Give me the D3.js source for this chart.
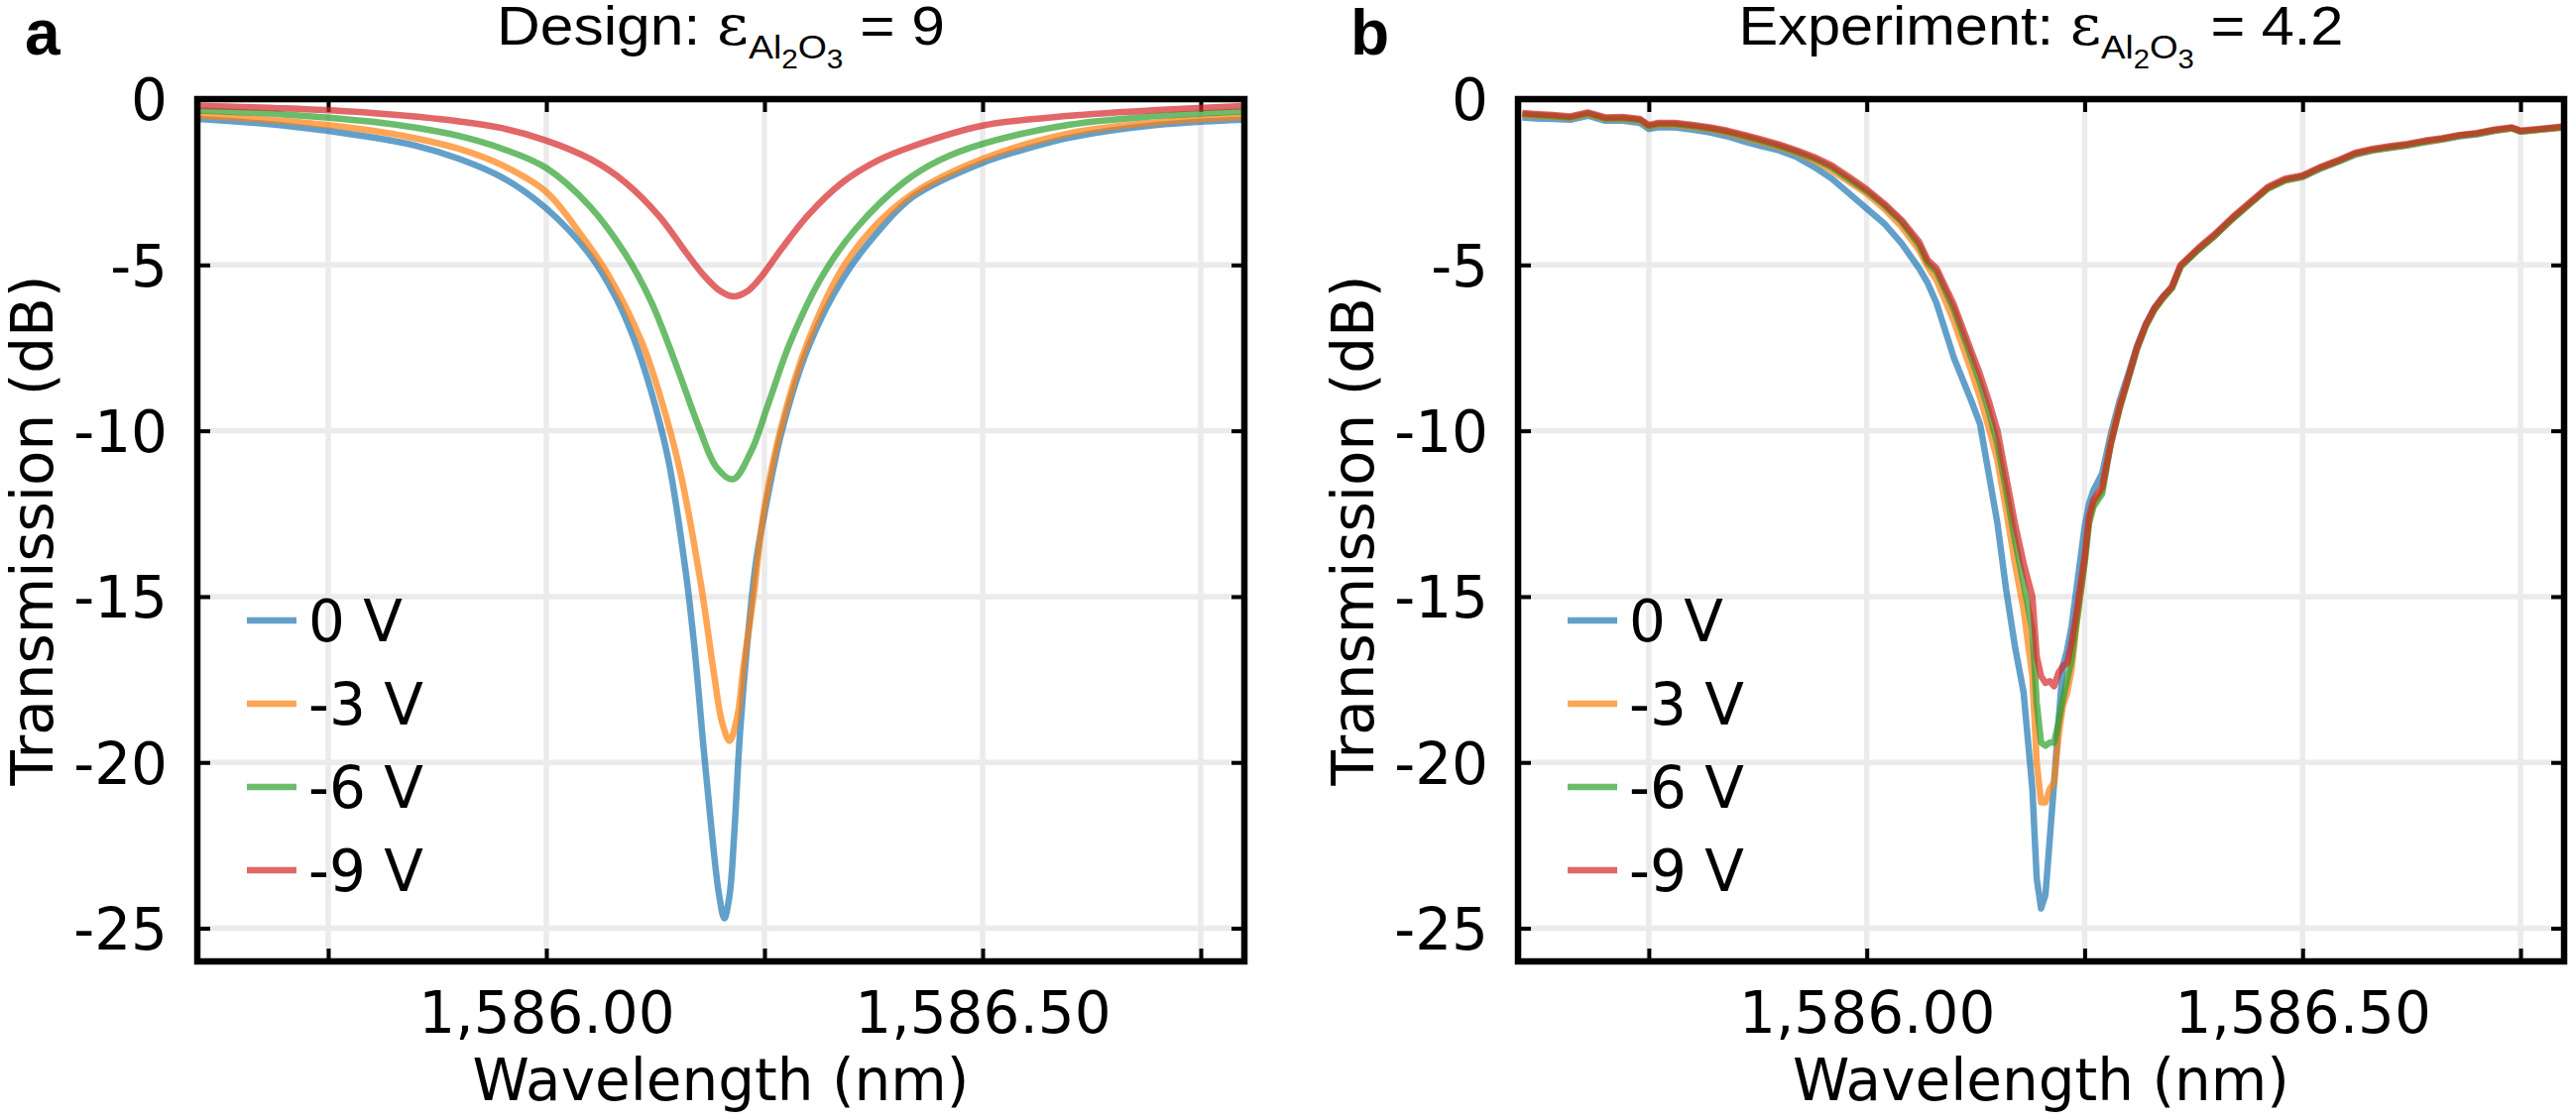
<!DOCTYPE html>
<html><head><meta charset="utf-8">
<script src="https://cdn.jsdelivr.net/npm/d3@7"></script>
<style>html,body{margin:0;padding:0;background:#fff;} svg{display:block;}</style>
</head><body>
<svg id="chart" width="2598" height="1130"></svg>
<script>
// ---------- shared categories / ticks ----------
const seriesNames = ["0 V", "-3 V", "-6 V", "-9 V"];
const seriesColors = ["#1f77b4", "#ff7f0e", "#2ca02c", "#d62728"];
const yTickValues = [0, -5, -10, -15, -20, -25];
const yTickLabels = ["0", "-5", "-10", "-15", "-20", "-25"];
const xTickValues = [1585.75, 1586.00, 1586.25, 1586.50, 1586.75];
const xTickLabels = ["", "1,586.00", "", "1,586.50", ""];
const xDomain = [1585.6, 1586.8];
const yDomain = [-26, 0];

// ---------- panel a: design (simulated) ----------
const designWl0 = [1585.60,1585.70,1585.80,1585.85,1585.90,1585.95,1586.00,1586.05,1586.08,1586.10,1586.12,1586.14,1586.16,1586.17,1586.18,1586.19,1586.198,1586.204,1586.21,1586.215,1586.222,1586.23,1586.24,1586.25,1586.27,1586.30,1586.34,1586.38,1586.42,1586.50,1586.55,1586.60,1586.70,1586.80];
const designT0  = [-0.60,-0.80,-1.15,-1.40,-1.80,-2.37,-3.30,-4.70,-6.00,-7.20,-8.80,-10.9,-14.3,-16.6,-19.5,-22.2,-24.0,-24.7,-24.0,-22.3,-19.1,-16.5,-14.0,-12.5,-10.0,-7.5,-5.4,-4.0,-2.95,-1.92,-1.50,-1.16,-0.78,-0.62];

const designWl3 = [1585.60,1585.70,1585.80,1585.85,1585.90,1585.95,1586.00,1586.04,1586.071,1586.109,1586.131,1586.154,1586.177,1586.192,1586.2015,1586.21,1586.219,1586.226,1586.2375,1586.25,1586.272,1586.30,1586.336,1586.374,1586.42,1586.50,1586.60,1586.70,1586.80];
const designT3  = [-0.50,-0.66,-0.95,-1.18,-1.50,-2.00,-2.80,-4.10,-5.30,-7.30,-9.00,-11.3,-14.6,-17.3,-18.8,-19.35,-18.6,-17.1,-15.0,-12.3,-9.6,-7.3,-5.25,-3.9,-2.85,-1.80,-1.03,-0.70,-0.54];

const designWl6 = [1585.60,1585.70,1585.80,1585.85,1585.90,1585.95,1586.00,1586.05,1586.09,1586.12,1586.15,1586.175,1586.195,1586.214,1586.235,1586.253,1586.28,1586.317,1586.355,1586.41,1586.45,1586.50,1586.60,1586.70,1586.80];
const designT6  = [-0.34,-0.46,-0.68,-0.86,-1.11,-1.50,-2.08,-3.24,-4.65,-6.10,-8.10,-9.90,-11.1,-11.46,-10.6,-9.3,-7.3,-5.3,-3.9,-2.5,-1.85,-1.35,-0.77,-0.51,-0.37];

const designWl9 = [1585.60,1585.70,1585.80,1585.90,1585.95,1586.00,1586.05,1586.09,1586.13,1586.16,1586.18,1586.20,1586.215,1586.23,1586.245,1586.27,1586.30,1586.34,1586.38,1586.42,1586.50,1586.60,1586.70,1586.80];
const designT9  = [-0.20,-0.28,-0.42,-0.67,-0.88,-1.25,-1.80,-2.50,-3.55,-4.62,-5.30,-5.80,-5.95,-5.80,-5.40,-4.50,-3.50,-2.50,-1.85,-1.42,-0.80,-0.50,-0.33,-0.21];

// ---------- panel b: experiment (measured) ----------
const expWl = [1585.605,1585.62,1585.64,1585.66,1585.68,1585.70,1585.72,1585.74,1585.75,1585.76,1585.78,1585.80,1585.82,1585.84,1585.86,1585.88,1585.90,1585.92,1585.94,1585.96,1585.98,
  1586.00,1586.02,1586.04,1586.06,1586.07,1586.08,1586.10,1586.12,1586.13,1586.14,1586.15,1586.16,1586.17,1586.18,1586.19,1586.195,1586.20,1586.205,1586.21,1586.215,1586.22,1586.225,1586.23,1586.235,1586.24,1586.25,1586.255,1586.26,1586.27,
  1586.28,1586.29,1586.30,1586.31,1586.32,1586.33,1586.34,1586.35,1586.36,1586.38,1586.40,1586.42,1586.44,1586.46,1586.48,1586.50,1586.52,1586.54,1586.56,1586.58,1586.60,1586.62,1586.64,1586.66,1586.68,1586.70,1586.72,1586.74,1586.75,1586.77,1586.80];
const expT0 = [-0.55,-0.58,-0.60,-0.62,-0.50,-0.65,-0.65,-0.72,-0.90,-0.85,-0.85,-0.92,-1.00,-1.12,-1.28,-1.42,-1.55,-1.75,-2.05,-2.40,-2.85,
  -3.30,-3.75,-4.35,-5.10,-5.55,-6.15,-7.80,-9.10,-9.80,-11.3,-12.8,-14.8,-16.5,-17.9,-20.8,-23.5,-24.4,-24.0,-22.3,-20.6,-18.8,-17.1,-16.6,-15.9,-14.9,-12.9,-12.2,-11.8,-11.3,
  -10.1,-9.1,-8.3,-7.45,-6.8,-6.3,-5.95,-5.7,-5.05,-4.55,-4.1,-3.6,-3.15,-2.7,-2.45,-2.35,-2.1,-1.9,-1.68,-1.55,-1.47,-1.40,-1.30,-1.22,-1.12,-1.06,-0.96,-0.88,-0.98,-0.93,-0.85];
const expT3 = [-0.48,-0.50,-0.53,-0.57,-0.45,-0.60,-0.59,-0.65,-0.83,-0.77,-0.78,-0.84,-0.91,-1.02,-1.16,-1.30,-1.45,-1.63,-1.86,-2.15,-2.50,
  -2.85,-3.30,-3.85,-4.55,-5.05,-5.45,-6.70,-8.20,-9.00,-9.90,-10.9,-12.4,-14.0,-15.4,-17.4,-20.0,-21.2,-21.2,-20.8,-20.6,-19.2,-18.3,-17.9,-17.2,-16.0,-13.9,-12.7,-12.2,-11.8,
  -10.3,-9.25,-8.4,-7.5,-6.85,-6.35,-6.0,-5.7,-5.05,-4.55,-4.1,-3.6,-3.15,-2.7,-2.45,-2.34,-2.09,-1.89,-1.66,-1.54,-1.46,-1.39,-1.29,-1.21,-1.11,-1.05,-0.95,-0.88,-0.98,-0.93,-0.85];
const expT6 = [-0.45,-0.48,-0.51,-0.55,-0.43,-0.58,-0.57,-0.63,-0.81,-0.75,-0.75,-0.81,-0.88,-0.98,-1.12,-1.26,-1.41,-1.59,-1.80,-2.06,-2.42,
  -2.78,-3.20,-3.70,-4.40,-4.95,-5.20,-6.35,-7.80,-8.55,-9.40,-10.4,-11.8,-13.3,-14.6,-16.0,-18.2,-19.4,-19.5,-19.4,-19.4,-18.8,-18.1,-17.5,-16.9,-15.9,-14.0,-12.8,-12.3,-11.9,
  -10.4,-9.35,-8.45,-7.55,-6.85,-6.35,-6.0,-5.7,-5.05,-4.55,-4.1,-3.6,-3.14,-2.69,-2.44,-2.33,-2.08,-1.88,-1.65,-1.53,-1.45,-1.38,-1.28,-1.20,-1.10,-1.04,-0.94,-0.87,-0.97,-0.92,-0.84];
const expT9 = [-0.42,-0.45,-0.48,-0.52,-0.40,-0.55,-0.54,-0.60,-0.78,-0.72,-0.72,-0.78,-0.85,-0.95,-1.08,-1.22,-1.37,-1.55,-1.75,-2.00,-2.35,
  -2.72,-3.15,-3.65,-4.30,-4.85,-5.10,-6.20,-7.60,-8.30,-9.10,-10.0,-11.4,-12.8,-14.0,-15.0,-16.8,-17.4,-17.6,-17.55,-17.7,-17.3,-17.1,-17.0,-16.4,-15.6,-13.8,-12.6,-12.1,-11.7,
  -10.4,-9.3,-8.4,-7.5,-6.8,-6.3,-5.95,-5.65,-5.0,-4.5,-4.05,-3.55,-3.1,-2.65,-2.40,-2.30,-2.05,-1.85,-1.62,-1.50,-1.42,-1.35,-1.25,-1.18,-1.08,-1.02,-0.92,-0.85,-0.95,-0.90,-0.82];

// ---------- drawing ----------
const svg = d3.select("#chart");
const TICK_FONT = "'DejaVu Sans', sans-serif";
const TITLE_FONT = "'Liberation Sans', Arial, sans-serif";
const plotTop = 100, plotBottom = 970;

function zip(wl, t) { return wl.map((w, i) => ({x: w, y: t[i]})); }

function drawPanel(opts) {
  const {id, left, right, series, curve, title, value, titleWidth, letter, letterX} = opts;
  const x = d3.scaleLinear().domain(xDomain).range([left, right]);
  const y = d3.scaleLinear().domain(yDomain).range([plotBottom, plotTop]);
  const g = svg.append("g");

  g.append("clipPath").attr("id", "clip" + id).append("rect")
    .attr("x", left).attr("y", plotTop).attr("width", right - left).attr("height", plotBottom - plotTop);

  // grid
  const grid = g.append("g").attr("stroke", "#ebebeb").attr("stroke-width", 5.5);
  grid.selectAll("line.vx").data(xTickValues).join("line").attr("class", "vx")
    .attr("x1", d => x(d)).attr("x2", d => x(d)).attr("y1", plotTop).attr("y2", plotBottom);
  grid.selectAll("line.hy").data(yTickValues.filter(v => v !== 0)).join("line").attr("class", "hy")
    .attr("y1", d => y(d)).attr("y2", d => y(d)).attr("x1", left).attr("x2", right);

  // axes via d3 axis (inward ticks, all four sides)
  const tickLen = 13;
  const axB = d3.axisBottom(x).tickValues(xTickValues).tickSize(-tickLen).tickFormat((d, i) => xTickLabels[i]).tickPadding(0);
  const axT = d3.axisTop(x).tickValues(xTickValues).tickSize(-tickLen).tickFormat("");
  const axL = d3.axisLeft(y).tickValues(yTickValues).tickSize(-tickLen).tickFormat((d, i) => yTickLabels[i]).tickPadding(0);
  const axR = d3.axisRight(y).tickValues(yTickValues).tickSize(-tickLen).tickFormat("");

  const gb = g.append("g").attr("transform", `translate(0,${plotBottom})`).call(axB);
  const gt = g.append("g").attr("transform", `translate(0,${plotTop})`).call(axT);
  const gl = g.append("g").attr("transform", `translate(${left},0)`).call(axL);
  const gr = g.append("g").attr("transform", `translate(${right},0)`).call(axR);
  [gb, gt, gl, gr].forEach(a => {
    a.select(".domain").remove();
    a.selectAll(".tick line").attr("stroke", "#000").attr("stroke-width", 4);
  });
  gb.selectAll(".tick text").attr("y", 72).attr("dy", 0)
    .style("font-family", TICK_FONT).style("font-size", "58px").attr("fill", "#000");
  gl.selectAll(".tick text").attr("x", -30).attr("dy", "0.36em")
    .style("font-family", TICK_FONT).style("font-size", "58px").attr("fill", "#000");

  // curves
  const line = d3.line().x(d => x(d.x)).y(d => y(d.y)).curve(curve);
  const cg = g.append("g").attr("clip-path", `url(#clip${id})`);
  series.forEach((s, i) => {
    cg.append("path").datum(s).attr("d", line).attr("fill", "none")
      .attr("stroke", seriesColors[i]).attr("stroke-opacity", 0.7)
      .attr("stroke-width", 6.5).attr("stroke-linejoin", "round").attr("stroke-linecap", "butt");
  });

  // frame
  g.append("rect").attr("x", left).attr("y", plotTop).attr("width", right - left).attr("height", plotBottom - plotTop)
    .attr("fill", "none").attr("stroke", "#000").attr("stroke-width", 6.5);

  // legend
  const lg = g.append("g");
  seriesNames.forEach((name, i) => {
    const ly = 626 + i * 84;
    lg.append("line").attr("x1", left + 50).attr("x2", left + 100).attr("y1", ly).attr("y2", ly)
      .attr("stroke", seriesColors[i]).attr("stroke-opacity", 0.7).attr("stroke-width", 6.5);
    lg.append("text").attr("x", left + 112).attr("y", ly).attr("dy", "0.36em")
      .style("font-family", TICK_FONT).style("font-size", "58px").text(name);
  });

  // axis titles
  g.append("text").attr("x", (left + right) / 2).attr("y", 1110).attr("text-anchor", "middle")
    .style("font-family", TICK_FONT).style("font-size", "58px").text("Wavelength (nm)");
  g.append("text").attr("transform", `translate(${left - 146},${(plotTop + plotBottom) / 2}) rotate(-90)`)
    .attr("text-anchor", "middle")
    .style("font-family", TICK_FONT).style("font-size", "58px").text("Transmission (dB)");

  // title with subscripts (mathtext-like)
  const cx = (left + right) / 2;
  const t = g.append("text").attr("x", cx).attr("y", 45).attr("text-anchor", "middle")
    .style("font-family", TITLE_FONT).style("font-size", "55px");
  t.append("tspan").text(title + " ");
  t.append("tspan").style("font-family", "'DejaVu Serif','Liberation Serif',serif").style("font-size", "56px").text("ε");
  t.append("tspan").style("font-size", "34px").attr("dy", 14).text("Al");
  t.append("tspan").style("font-size", "27px").attr("dy", 10).text("2");
  t.append("tspan").style("font-size", "34px").attr("dy", -10).text("O");
  t.append("tspan").style("font-size", "27px").attr("dy", 10).text("3");
  t.append("tspan").attr("dy", -24).text(" = " + value);
  const w = t.node().getBBox().width;
  const sx = titleWidth / w;
  t.attr("transform", `translate(${cx},0) scale(${sx},1) translate(${-cx},0)`);

  // panel letter
  svg.append("text").attr("x", letterX).attr("y", 55)
    .style("font-family", TITLE_FONT).style("font-weight", "bold").style("font-size", "64px").text(letter);
}

drawPanel({
  id: "a", left: 199, right: 1255, curve: d3.curveCatmullRom.alpha(0.5),
  series: [zip(designWl0, designT0), zip(designWl3, designT3), zip(designWl6, designT6), zip(designWl9, designT9)],
  title: "Design:", value: "9", titleWidth: 452, letter: "a", letterX: 25
});
drawPanel({
  id: "b", left: 1531, right: 2586, curve: d3.curveLinear,
  series: [zip(expWl, expT0), zip(expWl, expT3), zip(expWl, expT6), zip(expWl, expT9)],
  title: "Experiment:", value: "4.2", titleWidth: 610, letter: "b", letterX: 1362
});
</script>
</body></html>
